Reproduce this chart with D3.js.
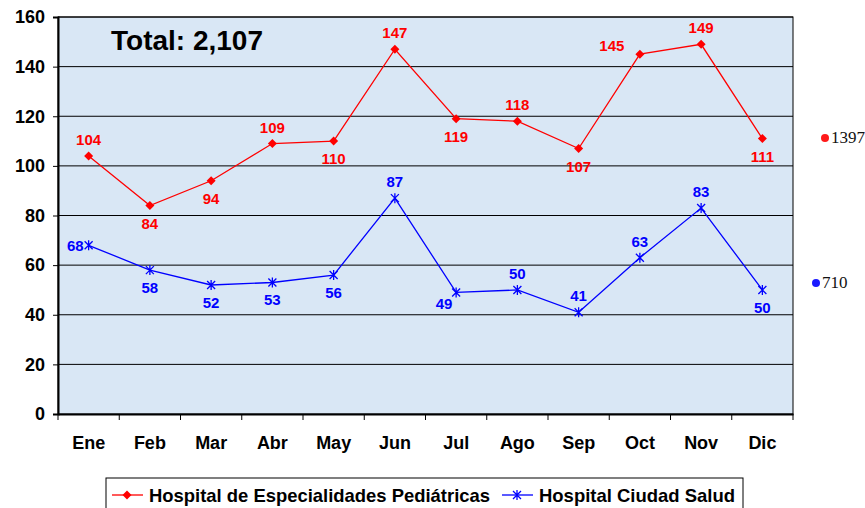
<!DOCTYPE html>
<html>
<head>
<meta charset="utf-8">
<script src="https://cdn.jsdelivr.net/npm/d3@7"></script>
<style>
  body { margin: 0; background: #fff; }
  text { font-family: "Liberation Sans", Arial, sans-serif; }
</style>
</head>
<body>
<div id="chart"></div>
<script>
// Datos del gráfico
const meses = ["Ene", "Feb", "Mar", "Abr", "May", "Jun", "Jul", "Ago", "Sep", "Oct", "Nov", "Dic"];
const pediatricas = [104, 84, 94, 109, 110, 147, 119, 118, 107, 145, 149, 111];
const ciudadSalud = [68, 58, 52, 53, 56, 87, 49, 50, 41, 63, 83, 50];
// posición de cada etiqueta: a = arriba, b = abajo, l = izquierda, al = arriba-izq, bl = abajo-izq
const posPed = ["a", "b", "b", "a", "b", "a", "b", "a", "b", "al", "a", "b"];
const posCiu = ["l", "b", "b", "b", "b", "a", "bl", "a", "a", "a", "a", "b"];
const yTicks = [0, 20, 40, 60, 80, 100, 120, 140, 160];
const totalTexto = "Total: 2,107";
const sumaPed = 1397;
const sumaCiu = 710;
const nombres = ["Hospital de Especialidades Pediátricas", "Hospital Ciudad Salud"];

const width = 865;
const height = 508;
const margin = { top: 17, right: 72, bottom: 94, left: 58 };

const svg = d3.select("#chart")
  .append("svg")
  .attr("width", width)
  .attr("height", height);

const x = d3.scaleBand()
  .domain(meses)
  .range([margin.left, width - margin.right]);

const y = d3.scaleLinear()
  .domain([0, 160])
  .range([height - margin.bottom, margin.top]);

// Fondo del área de trazado
svg.append("rect")
  .attr("x", margin.left)
  .attr("y", margin.top)
  .attr("width", width - margin.left - margin.right)
  .attr("height", y(0) - margin.top)
  .attr("fill", "#d9e7f5");

// Líneas de cuadrícula
svg.append("g")
  .selectAll("line")
  .data(yTicks.slice(1))
  .join("line")
  .attr("x1", margin.left)
  .attr("x2", width - margin.right)
  .attr("y1", (d) => y(d))
  .attr("y2", (d) => y(d))
  .attr("stroke", "#000")
  .attr("stroke-width", 1);

// Borde
svg.append("rect")
  .attr("x", margin.left)
  .attr("y", margin.top)
  .attr("width", width - margin.left - margin.right)
  .attr("height", y(0) - margin.top)
  .attr("fill", "none")
  .attr("stroke", "#000")
  .attr("stroke-width", 1);

// Eje Y
const yAxis = svg.append("g")
  .attr("transform", `translate(${margin.left},0)`)
  .call(d3.axisLeft(y).tickValues(yTicks).tickSize(5).tickPadding(8));
yAxis.select(".domain").attr("stroke-width", 2);
yAxis.selectAll("text")
  .style("font-size", "18px")
  .style("font-weight", "bold")
  .attr("fill", "#000");

// Eje X
const xAxis = svg.append("g")
  .attr("transform", `translate(0,${y(0)})`)
  .call(d3.axisBottom(x).tickSize(0).tickPadding(22));
xAxis.select(".domain").attr("stroke-width", 2);
xAxis.selectAll("text")
  .style("font-size", "18px")
  .style("font-weight", "bold")
  .attr("fill", "#000");

// marcas entre meses
svg.append("g")
  .selectAll("line")
  .data(meses.concat(["fin"]))
  .join("line")
  .attr("x1", (d, i) => margin.left + i * x.bandwidth())
  .attr("x2", (d, i) => margin.left + i * x.bandwidth())
  .attr("y1", y(0))
  .attr("y2", y(0) + 6)
  .attr("stroke", "#000");

// Total
svg.append("text")
  .attr("x", 111)
  .attr("y", 50)
  .style("font-size", "28px")
  .style("font-weight", "bold")
  .text(totalTexto);

const cx = (i) => x(meses[i]) + x.bandwidth() / 2;

const line = d3.line()
  .x((d, i) => cx(i))
  .y((d) => y(d));

function dibujarMarca(g, px, py, color, marcador) {
  if (marcador === "rombo") {
    g.append("path")
      .attr("d", `M${px},${py - 4.5}L${px + 4.5},${py}L${px},${py + 4.5}L${px - 4.5},${py}Z`)
      .attr("fill", color);
  } else {
    g.append("path")
      .attr("d", `M${px - 4},${py - 4}L${px + 4},${py + 4}M${px - 4},${py + 4}L${px + 4},${py - 4}M${px},${py - 5}L${px},${py + 5}`)
      .attr("stroke", color)
      .attr("stroke-width", 1.3);
  }
}

function dibujarSerie(datos, pos, color, marcador) {
  svg.append("path")
    .datum(datos)
    .attr("fill", "none")
    .attr("stroke", color)
    .attr("stroke-width", 1.3)
    .attr("d", line);

  const g = svg.append("g");
  datos.forEach((d, i) => {
    const px = cx(i);
    const py = y(d);
    dibujarMarca(g, px, py, color, marcador);

    let lx = px, ly = py, anchor = "middle";
    if (pos[i] === "a") ly = py - 11;
    if (pos[i] === "b") ly = py + 23;
    if (pos[i] === "l") { lx = px - 5; ly = py + 6; anchor = "end"; }
    if (pos[i] === "al") { lx = px - 28; ly = py - 3; }
    if (pos[i] === "bl") { lx = px - 12; ly = py + 17; }
    g.append("text")
      .attr("x", lx)
      .attr("y", ly)
      .attr("text-anchor", anchor)
      .style("font-size", "15px")
      .style("font-weight", "bold")
      .attr("fill", color)
      .text(d);
  });
}

dibujarSerie(pediatricas, posPed, "#ff0000", "rombo");
dibujarSerie(ciudadSalud, posCiu, "#0000ff", "asterisco");

// Sumas a la derecha
const sumas = [
  { v: sumaPed, color: "#ff1a1a", dx: 825, dy: 138 },
  { v: sumaCiu, color: "#1a1aff", dx: 816, dy: 283 },
];
sumas.forEach((s) => {
  svg.append("circle")
    .attr("cx", s.dx)
    .attr("cy", s.dy)
    .attr("r", 4)
    .attr("fill", s.color);
  svg.append("text")
    .attr("x", s.dx + 6)
    .attr("y", s.dy + 5)
    .style("font-family", "'Liberation Serif', 'DejaVu Serif', serif")
    .style("font-size", "17px")
    .attr("fill", "#111")
    .text(s.v);
});

// Leyenda
svg.append("rect")
  .attr("x", 106)
  .attr("y", 478)
  .attr("width", 637)
  .attr("height", 40)
  .attr("fill", "#fff")
  .attr("stroke", "#000")
  .attr("stroke-width", 1);

const leyenda = [
  { x0: 112, color: "#ff0000", marca: "rombo", texto: nombres[0], ancho: 341 },
  { x0: 502, color: "#0000ff", marca: "asterisco", texto: nombres[1], ancho: 196 },
];
leyenda.forEach((l) => {
  const ly = 495;
  svg.append("line")
    .attr("x1", l.x0)
    .attr("x2", l.x0 + 31)
    .attr("y1", ly)
    .attr("y2", ly)
    .attr("stroke", l.color)
    .attr("stroke-width", 1.3);
  dibujarMarca(svg, l.x0 + 15, ly, l.color, l.marca);
  svg.append("text")
    .attr("x", l.x0 + 37)
    .attr("y", ly + 7)
    .attr("textLength", l.ancho)
    .attr("lengthAdjust", "spacingAndGlyphs")
    .style("font-size", "19px")
    .style("font-weight", "bold")
    .attr("fill", "#000")
    .text(l.texto);
});
</script>
</body>
</html>
